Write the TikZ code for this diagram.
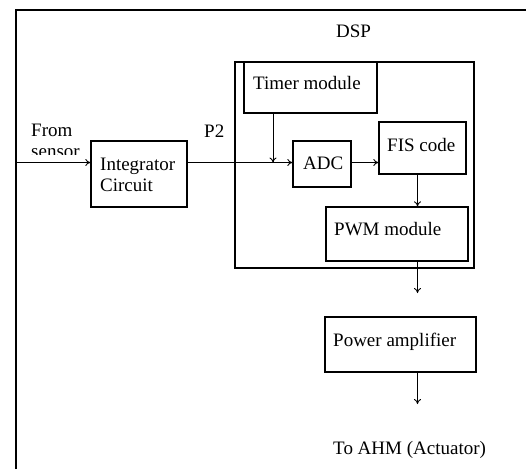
\documentclass[tikz,border=0pt]{standalone}
\usepackage{fontspec}
\setmainfont{Liberation Serif}
\usetikzlibrary{arrows.meta}
\begin{document}
\begin{tikzpicture}[x=1pt,y=-1pt,
  box/.style={draw,line width=1.3pt,inner sep=0pt},
  lbl/.style={inner sep=0pt,anchor=base west,align=left,font=\fontsize{19}{21}\selectfont},
  arr/.style={line width=0.9pt,-{To[length=5pt,width=7pt]}},
  wire/.style={line width=0.9pt}]
\useasboundingbox (0,0) rectangle (526,469);
% frame
\draw[line width=1.4pt] (16,469) -- (16,10) -- (526,10);
% boxes
\node[box,minimum width=239pt,minimum height=206pt] (dsp) at (354.5,165) {};
\node[box,minimum width=133pt,minimum height=51pt] (timer) at (310.5,87.5) {};
\node[box,minimum width=58pt,minimum height=46pt] (adc) at (322,164) {};
\node[box,minimum width=87pt,minimum height=52pt] (fis) at (422.5,148) {};
\node[box,minimum width=142pt,minimum height=54pt] (pwm) at (397,234) {};
\node[box,minimum width=96pt,minimum height=66pt] (integ) at (139,174) {};
\node[box,minimum width=151pt,minimum height=55pt] (pa) at (400.5,344.5) {};
% labels
\node[lbl] (tdsp) at (336,37) {DSP};
\node[lbl] (ttimer) at (253,89) {Timer module};
\node[lbl] (tadc) at (303,169) {ADC};
\node[lbl] (tfis) at (387,151.5) {FIS code};
\node[lbl] (tpwm) at (334,235) {PWM module};
\node[lbl] (tinteg) at (100,191) {Integrator\\Circuit};
\node[lbl] (tp2) at (204,137) {P2};
\node[lbl] (tpa) at (333,346) {Power amplifier};
\node[lbl] (tact) at (333,454) {To AHM (Actuator)};
\begin{scope}
\clip (20,100) rectangle (90,154.5);
\node[lbl] (tsrc) at (31,157) {From\\sensor};
\end{scope}
% coordinates
\coordinate (src) at (16,162.5);
\coordinate (tj) at (273,162.5);
\coordinate (vx) at (417.5,0);
\coordinate (pwmout) at (417.5,293);
\coordinate (act) at (417.5,404);
% connectors
\draw[arr] (src) -- (src -| integ.west);
\draw[wire] (src -| integ.east) -- (tj);
\draw[arr] (tj) -- (tj -| adc.west);
\draw[arr] (timer.south -| tj) -- (tj);
\draw[arr] (tj -| adc.east) -- (tj -| fis.west);
\draw[arr] (fis.south -| vx) -- (pwm.north -| vx);
\draw[arr] (pwm.south -| vx) -- (pwmout);
\draw[arr] (pa.south -| vx) -- (act);
\end{tikzpicture}
\end{document}
